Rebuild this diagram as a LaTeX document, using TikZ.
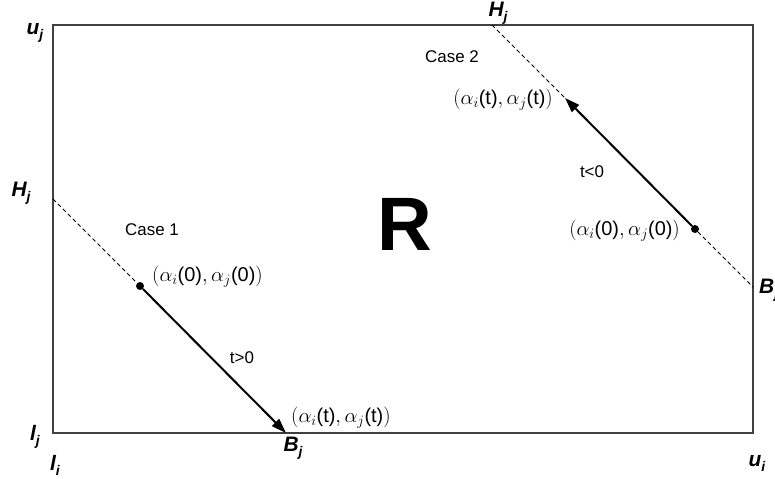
\documentclass[tikz,border=0pt]{standalone}
\usepackage{fontspec}
\setmainfont{Liberation Sans}
\usetikzlibrary{arrows.meta,positioning}
\newcommand{\bnd}[2]{{\bfseries\itshape #1\raisebox{-0.45ex}{\fontsize{14}{14}\selectfont #2}}}
\newcommand{\apair}[1]{$(\alpha_{i}$#1$,\alpha_{j}$#1$)$}
\tikzset{
  frame/.style={draw=black!75,line width=1.3bp},
  guide/.style={dashed,line width=0.8bp,dash pattern=on 4bp off 3bp},
  arrow/.style={-{Triangle[length=15bp,width=10bp]},line width=2bp},
  dot/.style={circle,fill,inner sep=0pt,minimum size=8bp},
  bound/.style={font=\fontsize{21}{21}\selectfont,inner sep=0pt},
  txt/.style={font=\fontsize{17}{17}\selectfont,inner sep=0pt},
  pair/.style={font=\fontsize{20}{20}\selectfont,inner sep=0pt},
}
\begin{document}
\begin{tikzpicture}[x=1bp,y=-1bp]
\useasboundingbox (0,0) rectangle (775,479);
% region
\coordinate (ll) at (53,433);
\coordinate (ur) at (753,25);
\draw[frame] (ll) rectangle (ur);
\node[font=\fontsize{76}{76}\selectfont\bfseries,inner sep=0pt] (reg) at (405,224) {R};

% case 1
\coordinate (H1) at (53,199);
\node[dot] (p1) at (140,286) {};
\coordinate (B1) at (286,433);
\draw[guide] (H1) -- (p1);
\draw[arrow] (p1) -- (B1);
\node[txt] (c1) at (152,230) {Case 1};
\node[txt] (tp) at (242,358) {t>0};
\node[pair,anchor=west] (a10) at (152,277) {\apair{(0)}};
\node[pair,anchor=west] (a1t) at (291,418) {\apair{(t)}};

% case 2
\coordinate (H2) at (492,25);
\node[dot] (p2) at (695,229) {};
\coordinate (q2) at (565,98);
\coordinate (B2) at (753,287);
\draw[guide] (H2) -- (q2);
\draw[guide] (p2) -- (B2);
\draw[arrow] (p2) -- (q2);
\node[txt] (c2) at (452,57) {Case 2};
\node[txt] (tm) at (592,172) {t<0};
\node[pair,anchor=east] (a2t) at (553,100) {\apair{(t)}};
\node[pair,anchor=east] (a20) at (680,231) {\apair{(0)}};

% bounds
\node[bound] (uj) at (35,33) {\bnd{u}{j}};
\node[bound] (hj1) at (21,193) {\bnd{H}{j}};
\node[bound] (hj2) at (498,13) {\bnd{H}{j}};
\node[bound,anchor=west] (bj2) at (759,290) {\bnd{B}{j}};
\node[bound] (bj1) at (293,448) {\bnd{B}{j}};
\node[bound] (lj) at (35,437) {\bnd{l}{j}};
\node[bound] (li) at (55,465) {\bnd{l}{i}};
\node[bound] (ui) at (757,463) {\bnd{u}{i}};
\end{tikzpicture}
\end{document}
